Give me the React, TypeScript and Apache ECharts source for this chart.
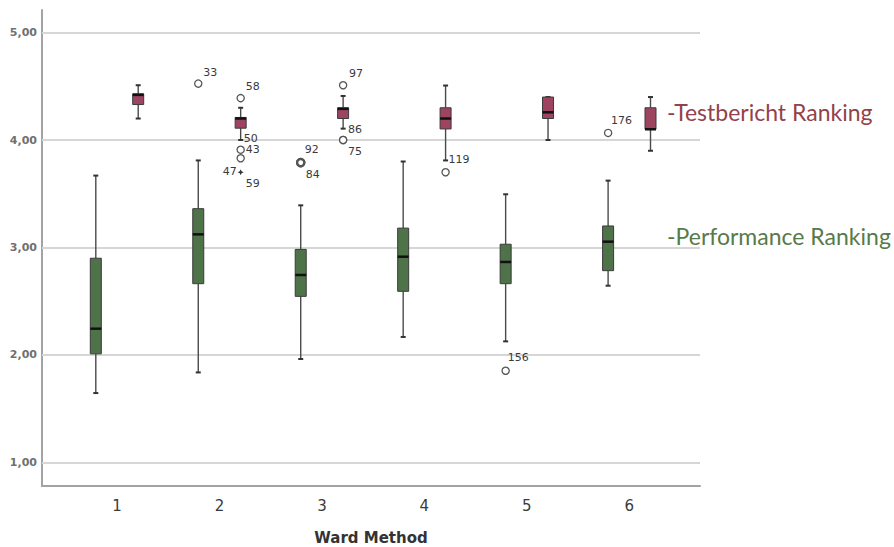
import React, { useEffect, useRef } from "react";
import * as echarts from "echarts";

// ---- data ----
const categories = [1, 2, 3, 4, 5, 6];
const yTicks = [1, 2, 3, 4, 5];

// Performance Ranking (green)
const perfMin = [1.645, 1.837, 1.962, 2.167, 2.126, 2.644];
const perfQ1 = [2.01, 2.663, 2.545, 2.592, 2.663, 2.784];
const perfMedian = [2.244, 3.122, 2.744, 2.914, 2.865, 3.054];
const perfQ3 = [2.9, 3.361, 2.982, 3.18, 3.03, 3.2];
const perfMax = [3.669, 3.81, 3.392, 3.8, 3.495, 3.622];

// Testbericht Ranking (red)
const testMin = [4.2, 4.0, 4.106, 3.81, 4.0, 3.9];
const testQ1 = [4.33, 4.11, 4.2, 4.103, 4.2, 4.1];
const testMedian = [4.42, 4.2, 4.29, 4.2, 4.258, 4.1];
const testQ3 = [4.43, 4.21, 4.3, 4.3, 4.4, 4.3];
const testMax = [4.51, 4.3, 4.41, 4.507, 4.4, 4.4];

// Outliers
const perfOutlierCat = [2, 3, 3, 5, 6];
const perfOutlierValue = [4.525, 3.79, 3.79, 1.853, 4.066];
const perfOutlierId = ["33", "92", "84", "156", "176"];

const testOutlierCat = [2, 2, 2, 2, 2, 2, 3, 3, 3, 4];
const testOutlierValue = [4.39, 4.0, 3.91, 3.83, 3.7, 3.7, 4.51, 4.0, 4.0, 3.7];
const testOutlierId = ["58", "50", "43", "", "47", "59", "97", "86", "75", "119"];

// ---- styles (label placement / marker kind per case id) ----
const labelPlace: Record<string, { dx: number; dy: number; align?: string; marker?: string }> = {
  "33": { dx: 5, dy: -11 },
  "92": { dx: 4, dy: -13, marker: "bold" },
  "84": { dx: 5, dy: 12, marker: "bold" },
  "156": { dx: 2, dy: -13 },
  "176": { dx: 3, dy: -12 },
  "58": { dx: 5, dy: -12 },
  "50": { dx: 3, dy: -2, marker: "none" },
  "43": { dx: 5, dy: 0 },
  "": { dx: 0, dy: 0 },
  "47": { dx: -4, dy: -1, align: "right", marker: "star" },
  "59": { dx: 5, dy: 11, marker: "none" },
  "97": { dx: 6, dy: -12 },
  "86": { dx: 5, dy: -11 },
  "75": { dx: 5, dy: 11 },
  "119": { dx: 3, dy: -13 },
};

const GREEN = "#4f7349";
const RED = "#9d4560";
const OFFSET = 21.2;

function boxRender(offsetPx: number, fill: string) {
  return (params: any, api: any) => {
    const cat = api.value(0);
    const xc = api.coord([cat, api.value(1)])[0] + offsetPx;
    const yMin = api.coord([cat, api.value(1)])[1];
    const yQ1 = api.coord([cat, api.value(2)])[1];
    const yMed = api.coord([cat, api.value(3)])[1];
    const yQ3 = api.coord([cat, api.value(4)])[1];
    const yMax = api.coord([cat, api.value(5)])[1];
    const half = 5.5;
    const cap = 2.5;
    const wStyle = { stroke: "#4a4a4a", lineWidth: 1.4 };
    return {
      type: "group",
      children: [
        { type: "line", shape: { x1: xc, y1: yMax, x2: xc, y2: yQ3 }, style: wStyle },
        { type: "line", shape: { x1: xc, y1: yQ1, x2: xc, y2: yMin }, style: wStyle },
        { type: "line", shape: { x1: xc - cap, y1: yMax, x2: xc + cap, y2: yMax }, style: { stroke: "#333", lineWidth: 2 } },
        { type: "line", shape: { x1: xc - cap, y1: yMin, x2: xc + cap, y2: yMin }, style: { stroke: "#333", lineWidth: 2 } },
        {
          type: "rect",
          shape: { x: xc - half, y: yQ3, width: half * 2, height: Math.max(yQ1 - yQ3, 1) },
          style: { fill, stroke: "#3a3a3a", lineWidth: 1 },
        },
        { type: "line", shape: { x1: xc - half, y1: yMed, x2: xc + half, y2: yMed }, style: { stroke: "#111", lineWidth: 2.5 } },
      ],
    };
  };
}

function outlierRender(offsetPx: number, ids: string[]) {
  return (params: any, api: any) => {
    const cat = api.value(0);
    const pt = api.coord([cat, api.value(1)]);
    const x = pt[0] + offsetPx;
    const y = pt[1];
    const id = ids[params.dataIndex];
    const p = labelPlace[id] || { dx: 5, dy: 0 };
    const children: any[] = [];
    if (p.marker === "star") {
      children.push({
        type: "polygon",
        shape: {
          points: [
            [x, y - 3], [x + 0.9, y - 0.9], [x + 3, y], [x + 0.9, y + 0.9],
            [x, y + 3], [x - 0.9, y + 0.9], [x - 3, y], [x - 0.9, y - 0.9],
          ],
        },
        style: { fill: "#333" },
      });
    } else if (p.marker !== "none") {
      children.push({
        type: "circle",
        shape: { cx: x, cy: y, r: 3.6 },
        style: { fill: "#fff", stroke: "#555", lineWidth: p.marker === "bold" ? 2.4 : 1.3 },
      });
    }
    if (id) {
      children.push({
        type: "text",
        x: x + p.dx,
        y: y + p.dy,
        style: {
          text: id,
          fill: "#3a3a3a",
          font: '11px "DejaVu Sans"',
          align: p.align || "left",
          verticalAlign: "middle",
        },
      });
    }
    return { type: "group", children };
  };
}

export default function App() {
  const ref = useRef<HTMLDivElement>(null);
  useEffect(() => {
    if (!ref.current) return;
    const chart = echarts.init(ref.current, null, { renderer: "svg" });
    const perfData = categories.map((c, i) => [c, perfMin[i], perfQ1[i], perfMedian[i], perfQ3[i], perfMax[i]]);
    const testData = categories.map((c, i) => [c, testMin[i], testQ1[i], testMedian[i], testQ3[i], testMax[i]]);
    const perfOut = perfOutlierCat.map((c, i) => [c, perfOutlierValue[i]]);
    const testOut = testOutlierCat.map((c, i) => [c, testOutlierValue[i]]);

    chart.setOption({
      animation: false,
      backgroundColor: "#fff",
      grid: { left: 42, right: 194, top: 10, bottom: 61, containLabel: false, outerBoundsMode: "none" },
      xAxis: {
        type: "value",
        min: 0.268,
        max: 6.69,
        name: "Ward Method",
        nameLocation: "middle",
        nameGap: 44,
        nameTextStyle: { fontFamily: "DejaVu Sans", fontWeight: "bold", fontSize: 15, color: "#333" },
        axisLine: { show: true, onZero: false, lineStyle: { color: "#a3a3a3", width: 2 } },
        axisTick: { show: false },
        splitLine: { show: false },
        axisLabel: {
          customValues: categories,
          margin: 12,
          fontFamily: "DejaVu Sans",
          fontSize: 15,
          color: "#3a3a3a",
          formatter: (v: number) => String(v),
        },
      },
      yAxis: {
        type: "value",
        min: 0.78,
        max: 5.21,
        axisLine: { show: true, lineStyle: { color: "#a3a3a3", width: 2 } },
        axisTick: { show: false },
        splitLine: { show: false },
        axisLabel: {
          customValues: yTicks,
          margin: 5,
          fontFamily: "DejaVu Sans",
          fontWeight: "bold",
          fontSize: 11,
          color: "#707070",
          formatter: (v: number) => v.toFixed(2).replace(".", ","),
        },
      },
      graphic: [
        {
          type: "text",
          x: 667,
          y: 112,
          style: {
            text: "-Testbericht Ranking",
            fill: "#93424b",
            font: '23px Lato',
            verticalAlign: "middle",
          },
        },
        {
          type: "text",
          x: 667,
          y: 236,
          style: {
            text: "-Performance Ranking",
            fill: "#587a4a",
            font: '23px Lato',
            verticalAlign: "middle",
          },
        },
      ],
      series: [
        {
          type: "scatter",
          data: [],
          z: 1,
          silent: true,
          markLine: {
            silent: true,
            symbol: "none",
            label: { show: false },
            lineStyle: { color: "#d6d6d6", width: 2, type: "solid" },
            data: yTicks.map((v) => ({ yAxis: v })),
          },
        },
        {
          name: "Performance Ranking",
          type: "custom",
          z: 5,
          renderItem: boxRender(-OFFSET, GREEN),
          encode: { x: 0, y: [1, 2, 3, 4, 5] },
          data: perfData,
        },
        {
          name: "Testbericht Ranking",
          type: "custom",
          z: 5,
          renderItem: boxRender(OFFSET, RED),
          encode: { x: 0, y: [1, 2, 3, 4, 5] },
          data: testData,
        },
        {
          type: "custom",
          z: 6,
          renderItem: outlierRender(-OFFSET, perfOutlierId),
          encode: { x: 0, y: 1 },
          data: perfOut,
        },
        {
          type: "custom",
          z: 6,
          renderItem: outlierRender(OFFSET, testOutlierId),
          encode: { x: 0, y: 1 },
          data: testOut,
        },
      ],
    });
    return () => chart.dispose();
  }, []);
  return <div ref={ref} style={{ width: 894, height: 547, position: "absolute", left: 0, top: 0 }} />;
}
